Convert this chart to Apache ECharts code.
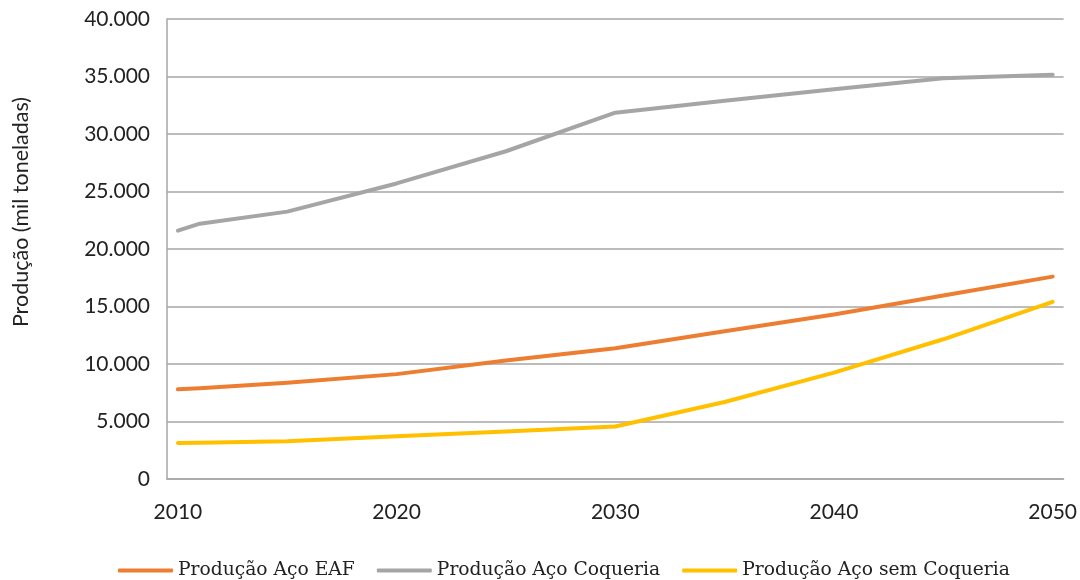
<!DOCTYPE html>
<html>
<head>
<meta charset="utf-8">
<script src="https://cdn.jsdelivr.net/npm/echarts@6/dist/echarts.min.js"></script>
<style>
html,body{margin:0;padding:0;background:#fff;}
#chart{width:1080px;height:580px;}
</style>
</head>
<body>
<div id="chart"></div>
<script>
// Categories: every year 2010..2050 on the axis
const anoInicial = 2010;
const anoFinal = 2050;
// Years with read values
const anosLidos = [2010, 2011, 2015, 2020, 2025, 2030, 2035, 2040, 2045, 2050];
const producaoEAF = [7800, 7900, 8380, 9120, 10300, 11370, 12850, 14300, 15950, 17600];
const producaoCoqueria = [21600, 22200, 23250, 25700, 28500, 31850, 32900, 33900, 34850, 35150];
const producaoSemCoqueria = [3130, 3150, 3280, 3720, 4120, 4560, 6700, 9250, 12150, 15400];
const nomesSeries = ['Produção Aço EAF', 'Produção Aço Coqueria', 'Produção Aço sem Coqueria'];
const yTicks = [0, 5000, 10000, 15000, 20000, 25000, 30000, 35000, 40000];

const anos = [];
for (let a = anoInicial; a <= anoFinal; a++) anos.push(String(a));

function expandir(valores) {
  const out = anos.map(() => null);
  anosLidos.forEach((a, i) => { out[a - anoInicial] = valores[i]; });
  return out;
}

function fmt(v) {
  return String(v).replace(/\B(?=(\d{3})+(?!\d))/g, '.');
}

const cores = ['#ED7D31', '#A5A5A5', '#FFC000'];
const dados = [producaoEAF, producaoCoqueria, producaoSemCoqueria];

const chart = echarts.init(document.getElementById('chart'), null, {renderer: 'canvas'});
chart.setOption({
  animation: false,
  backgroundColor: '#fff',
  grid: {left: 167, right: 16, top: 19, bottom: 101, containLabel: false},
  graphic: [{
    type: 'text',
    x: 21, y: 212,
    rotation: Math.PI / 2,
    style: {
      text: 'Produção (mil toneladas)',
      font: '21.5px Lato',
      fill: '#222',
      align: 'center',
      verticalAlign: 'middle'
    }
  }],
  legend: {
    left: 113,
    top: 556,
    icon: 'roundRect',
    itemWidth: 55,
    itemHeight: 4,
    itemGap: 22,
    textStyle: {fontFamily: 'DejaVu Serif', fontSize: 18.7, color: '#222'},
    data: nomesSeries
  },
  xAxis: {
    type: 'category',
    data: anos,
    boundaryGap: true,
    axisLine: {show: true, lineStyle: {color: '#A6A6A6', width: 1.5}},
    axisTick: {show: false},
    axisLabel: {interval: 9, fontFamily: 'Lato', fontSize: 21, color: '#222', margin: 23},
    splitLine: {show: false}
  },
  yAxis: {
    type: 'value',
    min: yTicks[0],
    max: yTicks[yTicks.length - 1],
    interval: yTicks[1] - yTicks[0],
    axisLine: {show: true, lineStyle: {color: '#A6A6A6', width: 1.5}},
    axisTick: {show: false},
    axisLabel: {fontFamily: 'Lato', fontSize: 21, color: '#222', margin: 17, formatter: fmt},
    splitLine: {show: true, lineStyle: {color: '#A6A6A6', width: 1.5}}
  },
  series: nomesSeries.map((n, i) => ({
    name: n,
    type: 'line',
    data: expandir(dados[i]),
    connectNulls: true,
    symbol: 'none',
    showSymbol: false,
    smooth: false,
    color: cores[i],
    lineStyle: {color: cores[i], width: 4, cap: 'round', join: 'round'},
    itemStyle: {color: cores[i]}
  }))
});
</script>
</body>
</html>
